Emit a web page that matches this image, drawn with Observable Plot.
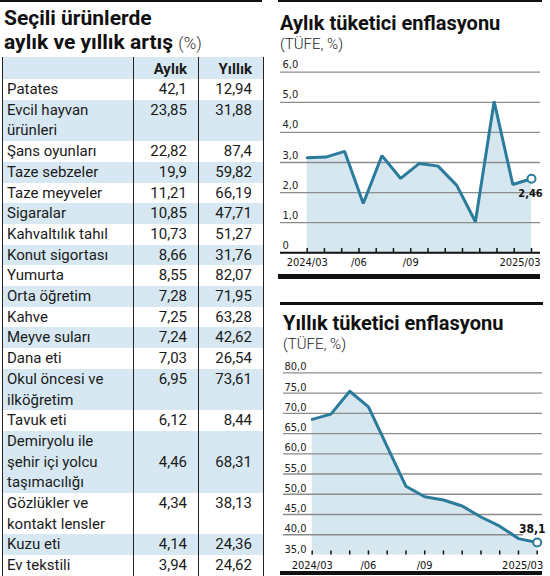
<!DOCTYPE html>
<html><head><meta charset="utf-8">
<script src="https://cdn.jsdelivr.net/npm/d3@7"></script>
<script src="https://cdn.jsdelivr.net/npm/@observablehq/plot@0.6"></script>
<style>
body{margin:0;background:#fff;}
#page{position:relative;width:550px;height:576px;overflow:hidden;font-family:Roboto,"Noto Sans",sans-serif;color:#1a1a1a;}
.rule{position:absolute;background:#111;}
.t{position:absolute;white-space:nowrap;line-height:1;}
.ttl{font-weight:700;font-size:21px;color:#111;}
.ctl{font-weight:700;font-size:20px;color:#111;}
.sub{font-weight:300;font-size:15px;color:#222;}
#tbl{position:absolute;left:2px;top:57px;width:261px;border-collapse:collapse;table-layout:fixed;font-size:15px;}
#tbl td,#tbl th{border-left:1.5px solid #222;border-right:1.5px solid #222;padding:0;line-height:20.7px;}
#tbl th{height:22px;font-weight:700;text-align:right;padding-right:11px;vertical-align:bottom;line-height:20px;}
#tbl td.n{padding-left:4px;white-space:pre-line;text-align:left;vertical-align:top;}
#tbl td.v{text-align:right;padding-right:11px;vertical-align:top;}
#tbl tr.b{background:#d7e8f2;}
.chart{position:absolute;}
</style>
</head><body>
<div id="page">
  <div class="rule" style="left:0;top:0;width:262px;height:2px"></div>
  <div class="t ttl" style="left:4px;top:8px">Seçili ürünlerde</div>
  <div class="t ttl" style="left:4px;top:32px">aylık ve yıllık artış <span style="font-weight:300;font-size:17px;color:#333">(%)</span></div>
  <table id="tbl"></table>

  <div class="rule" style="left:278px;top:0;width:264px;height:2px"></div>
  <div class="t ctl" style="left:280px;top:12.5px">Aylık tüketici enflasyonu</div>
  <div class="t sub" style="left:280px;top:36.5px">(TÜFE, %)</div>
  <div class="chart" id="c1" style="left:275px;top:52px"></div>
  <div class="rule" style="left:278px;top:274px;width:262px;height:4.5px"></div>

  <div class="rule" style="left:280px;top:302px;width:263px;height:2.5px"></div>
  <div class="t ctl" style="left:283px;top:312.5px">Yıllık tüketici enflasyonu</div>
  <div class="t sub" style="left:283px;top:336.5px">(TÜFE, %)</div>
  <div class="chart" id="c2" style="left:275px;top:352px"></div>
  <div class="rule" style="left:280px;top:571px;width:262px;height:4px"></div>
</div>
<script>
// ---- Table data ----
const headers = ["Aylık", "Yıllık"];
const items = ["Patates", "Evcil hayvan\nürünleri", "Şans oyunları", "Taze sebzeler", "Taze meyveler", "Sigaralar", "Kahvaltılık tahıl", "Konut sigortası", "Yumurta", "Orta öğretim", "Kahve", "Meyve suları", "Dana eti", "Okul öncesi ve\nilköğretim", "Tavuk eti", "Demiryolu ile\nşehir içi yolcu\ntaşımacılığı", "Gözlükler ve\nkontakt lensler", "Kuzu eti", "Ev tekstili"];
const aylikVals = [42.1, 23.85, 22.82, 19.9, 11.21, 10.85, 10.73, 8.66, 8.55, 7.28, 7.25, 7.24, 7.03, 6.95, 6.12, 4.46, 4.34, 4.14, 3.94];
const yillikVals = [12.94, 31.88, 87.4, 59.82, 66.19, 47.71, 51.27, 31.76, 82.07, 71.95, 63.28, 42.62, 26.54, 73.61, 8.44, 68.31, 38.13, 24.36, 24.62];

// ---- Chart data ----
const months = ["2024/03","2024/04","2024/05","2024/06","2024/07","2024/08","2024/09","2024/10","2024/11","2024/12","2025/01","2025/02","2025/03"];
const monthlyCPI = [3.16, 3.18, 3.37, 1.64, 3.23, 2.47, 2.97, 2.88, 2.24, 1.03, 5.03, 2.27, 2.46];
const annualCPI = [68.50, 69.80, 75.45, 71.60, 61.78, 51.97, 49.38, 48.58, 47.09, 44.38, 42.12, 39.05, 38.10];
const tickLabels1 = ["2024/03","","","/06","","","/09","","","","","","","2025/03"];
const tickLabels2 = ["2024/03","","","/06","","","/09","","","","","","2025/03"];
const yTicks1 = [0, 1, 2, 3, 4, 5, 6];
const yTicks2 = [35, 40, 45, 50, 55, 60, 65, 70, 75, 80];

const fmt = v => String(v).replace(".", ",");
const fmt1 = v => v === 0 ? "0" : v.toFixed(1).replace(".", ",");

// build table
const tbl = document.getElementById("tbl");
const cg = document.createElement("colgroup");
[131, 65, 65].forEach(w => { const c = document.createElement("col"); c.style.width = w + "px"; cg.appendChild(c); });
tbl.appendChild(cg);
const hr = document.createElement("tr"); hr.className = "b";
["", ...headers].forEach(h => { const th = document.createElement("th"); th.textContent = h; hr.appendChild(th); });
tbl.appendChild(hr);
items.forEach((name, i) => {
  const tr = document.createElement("tr");
  if (i % 2 === 1) tr.className = "b";
  const lines = name.split("\n").length;
  const td = document.createElement("td"); td.className = "n"; td.textContent = name; tr.appendChild(td);
  [aylikVals[i], yillikVals[i]].forEach(v => {
    const c = document.createElement("td"); c.className = "v"; c.textContent = fmt(v);
    if (lines === 3) c.style.verticalAlign = "middle";
    tr.appendChild(c);
  });
  tbl.appendChild(tr);
});

const lineColor = "#2b7c9c";
const areaColor = "#d6e7f0";
const gridColor = "#8c8c8c";
const tickFont = "'Liberation Sans Narrow','DejaVu Sans Condensed','Roboto Condensed',sans-serif";

// ---- Chart 1: monthly ----
const d1 = months.map((m, i) => ({i, m, v: monthlyCPI[i]}));
const ticks1 = tickLabels1.map((l, k) => ({k: k * (months.length - 1) / (tickLabels1.length - 1), l, last: k === tickLabels1.length - 1}));
const last1 = d1[d1.length - 1];
const c1 = Plot.plot({
  width: 270, height: 230,
  marginLeft: 5, marginRight: 5, marginTop: 19.7, marginBottom: 29.7,
  style: {fontFamily: tickFont, fontSize: "11px", color: "#222", background: "transparent", overflow: "visible"},
  x: {type: "linear", domain: [0, months.length - 1], range: [31.7, 256], axis: null},
  y: {domain: [0, 6], axis: null},
  marks: [
    Plot.areaY(d1, {x: "i", y: "v", fill: areaColor}),
    Plot.ruleY(yTicks1.filter(t => t > 0), {stroke: gridColor, strokeWidth: 1.3}),
    Plot.lineY(d1, {x: "i", y: "v", stroke: lineColor, strokeWidth: 3, strokeLinejoin: "miter"}),
    Plot.ruleY([0], {stroke: "#111", strokeWidth: 2}),
    Plot.ruleX(ticks1, {x: "k", y1: 0, y2: 0.14, stroke: "#111", strokeWidth: 1.5}),
    Plot.text(ticks1.filter(t => t.l && !t.last), {x: "k", y: () => 0, text: "l", dy: 10, fill: "#111", fontSize: 11}),
    Plot.text(ticks1.filter(t => t.last), {x: "k", y: () => 0, text: "l", dy: 10, dx: 9, textAnchor: "end", fill: "#111", fontSize: 11}),
    Plot.text(yTicks1, {y: d => d, text: d => fmt1(d), frameAnchor: "left", textAnchor: "start", dx: 2, dy: -7.5, fill: "#222", fontSize: 11}),
    Plot.dot([last1], {x: "i", y: "v", r: 4, fill: "white", stroke: lineColor, strokeWidth: 2}),
    Plot.text([last1], {x: "i", y: "v", text: d => fmt(d.v), dy: 15, dx: -1, fontWeight: "bold", fill: "#111", fontSize: 11})
  ]
});
document.getElementById("c1").appendChild(c1);

// ---- Chart 2: annual ----
const d2 = months.map((m, i) => ({i, m, v: annualCPI[i]}));
const ticks2 = tickLabels2.map((l, k) => ({k, l, last: k === tickLabels2.length - 1}));
const last2 = d2[d2.length - 1];
const c2 = Plot.plot({
  width: 270, height: 224,
  marginLeft: 8, marginRight: 3, marginTop: 20.3, marginBottom: 21.5,
  style: {fontFamily: tickFont, fontSize: "11px", color: "#222", background: "transparent", overflow: "visible"},
  x: {type: "linear", domain: [0, months.length - 1], range: [36.7, 261.7], axis: null},
  y: {domain: [35, 80], axis: null},
  marks: [
    Plot.areaY(d2, {x: "i", y1: 35, y2: "v", fill: areaColor}),
    Plot.ruleY(yTicks2.filter(t => t > 40), {stroke: gridColor, strokeWidth: 1.3}),
    Plot.ruleY([40], {stroke: gridColor, strokeWidth: 1.3, insetRight: 19}),
    Plot.lineY(d2, {x: "i", y: "v", stroke: lineColor, strokeWidth: 3}),
    Plot.ruleX(ticks2, {x: "k", y1: 35, y2: 36, stroke: "#111", strokeWidth: 1.5}),
    Plot.text(ticks2.filter(t => t.l && !t.last), {x: "k", y: () => 35, text: "l", dy: 10.5, fill: "#111", fontSize: 11}),
    Plot.text(ticks2.filter(t => t.last), {x: "k", y: () => 35, text: "l", dy: 10.5, dx: 6, textAnchor: "end", fill: "#111", fontSize: 11}),
    Plot.text(yTicks2, {y: d => d, text: d => fmt1(d), frameAnchor: "left", textAnchor: "start", dx: 1, dy: -6, fill: "#222", fontSize: 11}),
    Plot.dot([last2], {x: "i", y: "v", r: 4, fill: "white", stroke: lineColor, strokeWidth: 2}),
    Plot.text([last2], {x: "i", y: "v", text: d => fmt(d.v), dy: -13, dx: -5, fontWeight: "bold", fill: "#111", fontSize: 12})
  ]
});
document.getElementById("c2").appendChild(c2);
</script>
</body></html>
